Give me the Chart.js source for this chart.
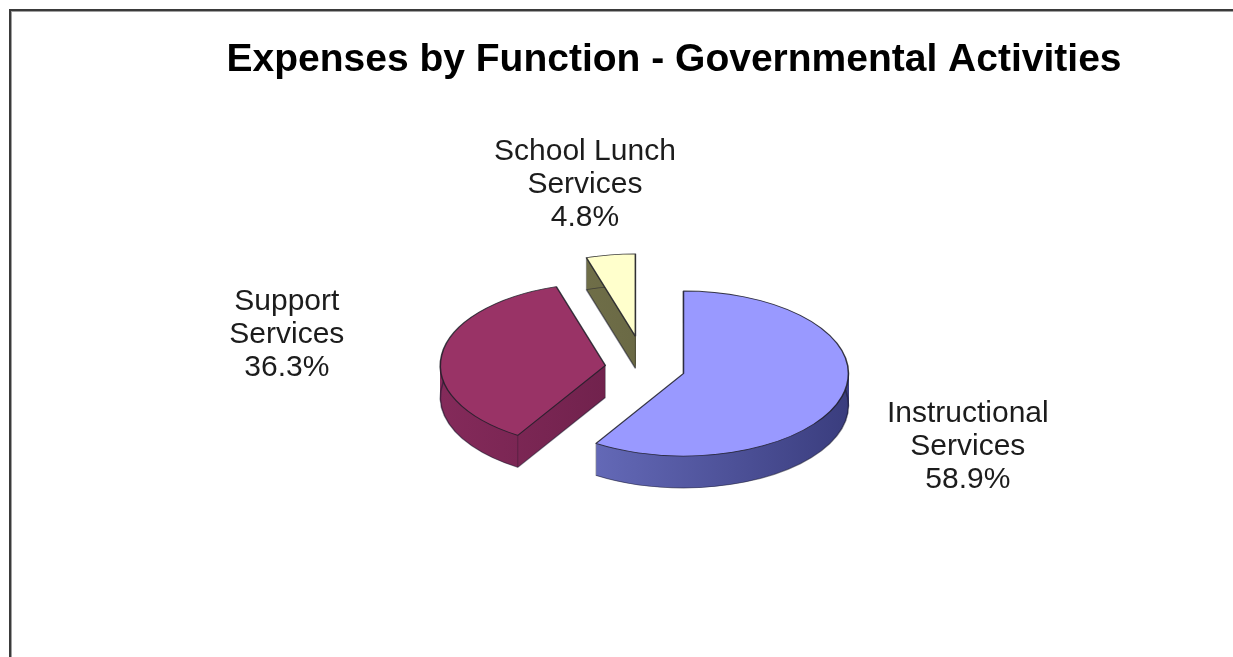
<!DOCTYPE html>
<html>
<head>
<meta charset="utf-8">
<script src="https://cdn.jsdelivr.net/npm/chart.js@4.4.1/dist/chart.umd.min.js"></script>
<style>
  html, body { margin: 0; padding: 0; background: #ffffff; overflow: hidden; }
  #wrap { position: relative; width: 1233px; height: 657px; }
</style>
</head>
<body>
<div id="wrap"><canvas id="chart" width="1233" height="657"></canvas></div>
<script>
// Expense categories and their share of governmental activities (%)
const categories = ['Instructional Services', 'Support Services', 'School Lunch Services'];
const labelLines = [['Instructional', 'Services'], ['Support', 'Services'], ['School Lunch', 'Services']];
const shares = [58.9, 36.3, 4.8];

// Slice colours: top face, and the lit / shaded ends of each slice wall
const topColors = ['#9999ff', '#993366', '#ffffcc'];
const wallLight = ['#7076c8', '#842a5a', '#7a794f'];
const wallDark = ['#3a3d7e', '#5e1a40', '#5b5a3b'];

// How far each slice is pulled out from the centre (px)
const explode = [40, 40, 64];

const chartTitle = 'Expenses by Function - Governmental Activities';

const TILT = 0.5;     // vertical squash of the pie
const DEPTH = 32;     // wall height in screen px
const RADIUS = 165;

function sliceGeom(arc, i) {
  const p = arc.getProps(['x', 'y', 'startAngle', 'endAngle', 'outerRadius']);
  const mid = (p.startAngle + p.endAngle) / 2;
  return {
    x: p.x + Math.cos(mid) * explode[i],
    y: p.y + Math.sin(mid) * explode[i],
    r: p.outerRadius, s: p.startAngle, e: p.endAngle, mid
  };
}

function slicePath(ctx, g, dy) {
  ctx.beginPath();
  ctx.moveTo(g.x, g.y + dy);
  ctx.arc(g.x, g.y + dy, g.r, g.s, g.e);
  ctx.closePath();
}

function line(ctx, x1, y1, x2, y2) {
  ctx.beginPath();
  ctx.moveTo(x1, y1);
  ctx.lineTo(x2, y2);
  ctx.stroke();
}

// Draws the pie as a tilted, exploded disc with visible walls
const pie3d = {
  id: 'pie3d',
  beforeDatasetsDraw(chart) {
    const ctx = chart.ctx;
    const meta = chart.getDatasetMeta(0);
    const arcs = meta.data;
    if (!arcs.length) return false;
    const cy = arcs[0].y;
    const depth = DEPTH / TILT;

    ctx.save();
    ctx.translate(0, cy);
    ctx.scale(1, TILT);
    ctx.translate(0, -cy);

    // walls
    arcs.forEach((arc, i) => {
      const g = sliceGeom(arc, i);
      const grad = ctx.createLinearGradient(g.x - g.r, 0, g.x + g.r, 0);
      grad.addColorStop(0, wallLight[i]);
      grad.addColorStop(1, wallDark[i]);
      ctx.fillStyle = grad;
      for (let d = depth; d > 0; d -= 1) {
        slicePath(ctx, g, d);
        ctx.fill();
      }
      const sx = g.x + Math.cos(g.s) * g.r, sy = g.y + Math.sin(g.s) * g.r;
      const ex = g.x + Math.cos(g.e) * g.r, ey = g.y + Math.sin(g.e) * g.r;

      // lower rim of the curved wall
      ctx.lineWidth = 1.6;
      ctx.strokeStyle = 'rgba(25,25,45,0.55)';
      ctx.beginPath();
      ctx.arc(g.x, g.y + depth, g.r, g.s, g.e);
      ctx.stroke();

      // radial walls that face the viewer get their lower edge
      const startFaces = Math.sin(g.s - Math.PI / 2) > 0.01;
      const endFaces = Math.sin(g.e + Math.PI / 2) > 0.01;
      if (startFaces) line(ctx, g.x, g.y + depth, sx, sy + depth);
      if (endFaces) line(ctx, g.x, g.y + depth, ex, ey + depth);

      // vertical edges at the corners
      ctx.lineWidth = 0.8;
      ctx.strokeStyle = 'rgba(20,20,30,0.55)';
      [[g.x, g.y], [sx, sy], [ex, ey]].forEach(([px, py]) => line(ctx, px, py, px, py + depth));
    });

    // top faces, drawn by the arc elements themselves
    arcs.forEach((arc, i) => {
      const mid = (arc.startAngle + arc.endAngle) / 2;
      ctx.save();
      ctx.translate(Math.cos(mid) * explode[i], Math.sin(mid) * explode[i]);
      arc.draw(ctx, chart.chartArea);
      ctx.restore();
    });

    ctx.restore();
    return false;
  },
  afterDraw(chart) {
    const ctx = chart.ctx;
    const arcs = chart.getDatasetMeta(0).data;
    if (!arcs.length) return;
    const o = chart.options.plugins.pie3d;

    // frame
    ctx.save();
    ctx.fillStyle = '#3a3a3a';
    ctx.fillRect(9, 9, chart.width - 9, 2);
    ctx.fillRect(9, 9, 2, chart.height - 9);
    ctx.fillStyle = '#a0a0a0';
    ctx.fillRect(11, 11, chart.width - 11, 1);
    ctx.fillRect(11, 11, 1, chart.height - 11);

    // title
    ctx.fillStyle = '#000000';
    ctx.font = 'bold 39px "Liberation Sans", Arial, sans-serif';
    ctx.textAlign = 'center';
    ctx.textBaseline = 'alphabetic';
    ctx.fillText(chartTitle, o.titleX, o.titleY);

    // slice labels
    ctx.font = '30px "Liberation Sans", Arial, sans-serif';
    ctx.fillStyle = '#1c1c1c';
    ctx.textBaseline = 'middle';
    arcs.forEach((arc, i) => {
      const mid = (arc.startAngle + arc.endAngle) / 2;
      const lx = arc.x + Math.cos(mid) * o.labelRx + o.nudge[i][0];
      const ly = arc.y + Math.sin(mid) * o.labelRy + o.nudge[i][1];
      const lines = labelLines[i].concat([shares[i].toFixed(1) + '%']);
      const lh = 33;
      const top = ly - (lines.length - 1) * lh / 2;
      lines.forEach((t, j) => ctx.fillText(t, lx, top + j * lh));
    });
    ctx.restore();
  }
};

new Chart(document.getElementById('chart'), {
  type: 'pie',
  data: {
    labels: categories,
    datasets: [{
      data: shares,
      backgroundColor: topColors,
      borderColor: 'rgba(30,30,40,0.85)',
      borderWidth: 1.6,
      offset: 0
    }]
  },
  options: {
    responsive: false,
    animation: false,
    events: [],
    radius: RADIUS,
    layout: { padding: { left: 57, right: 0, top: 79, bottom: 0 } },
    plugins: {
      legend: { display: false },
      title: { display: false },
      tooltip: { enabled: false },
      pie3d: {
        titleX: 674, titleY: 71,
        labelRx: 340, labelRy: 190,
        nudge: [[-4, 26], [-21, -9], [-9, 5]]
      }
    }
  },
  plugins: [pie3d]
});
</script>
</body>
</html>
